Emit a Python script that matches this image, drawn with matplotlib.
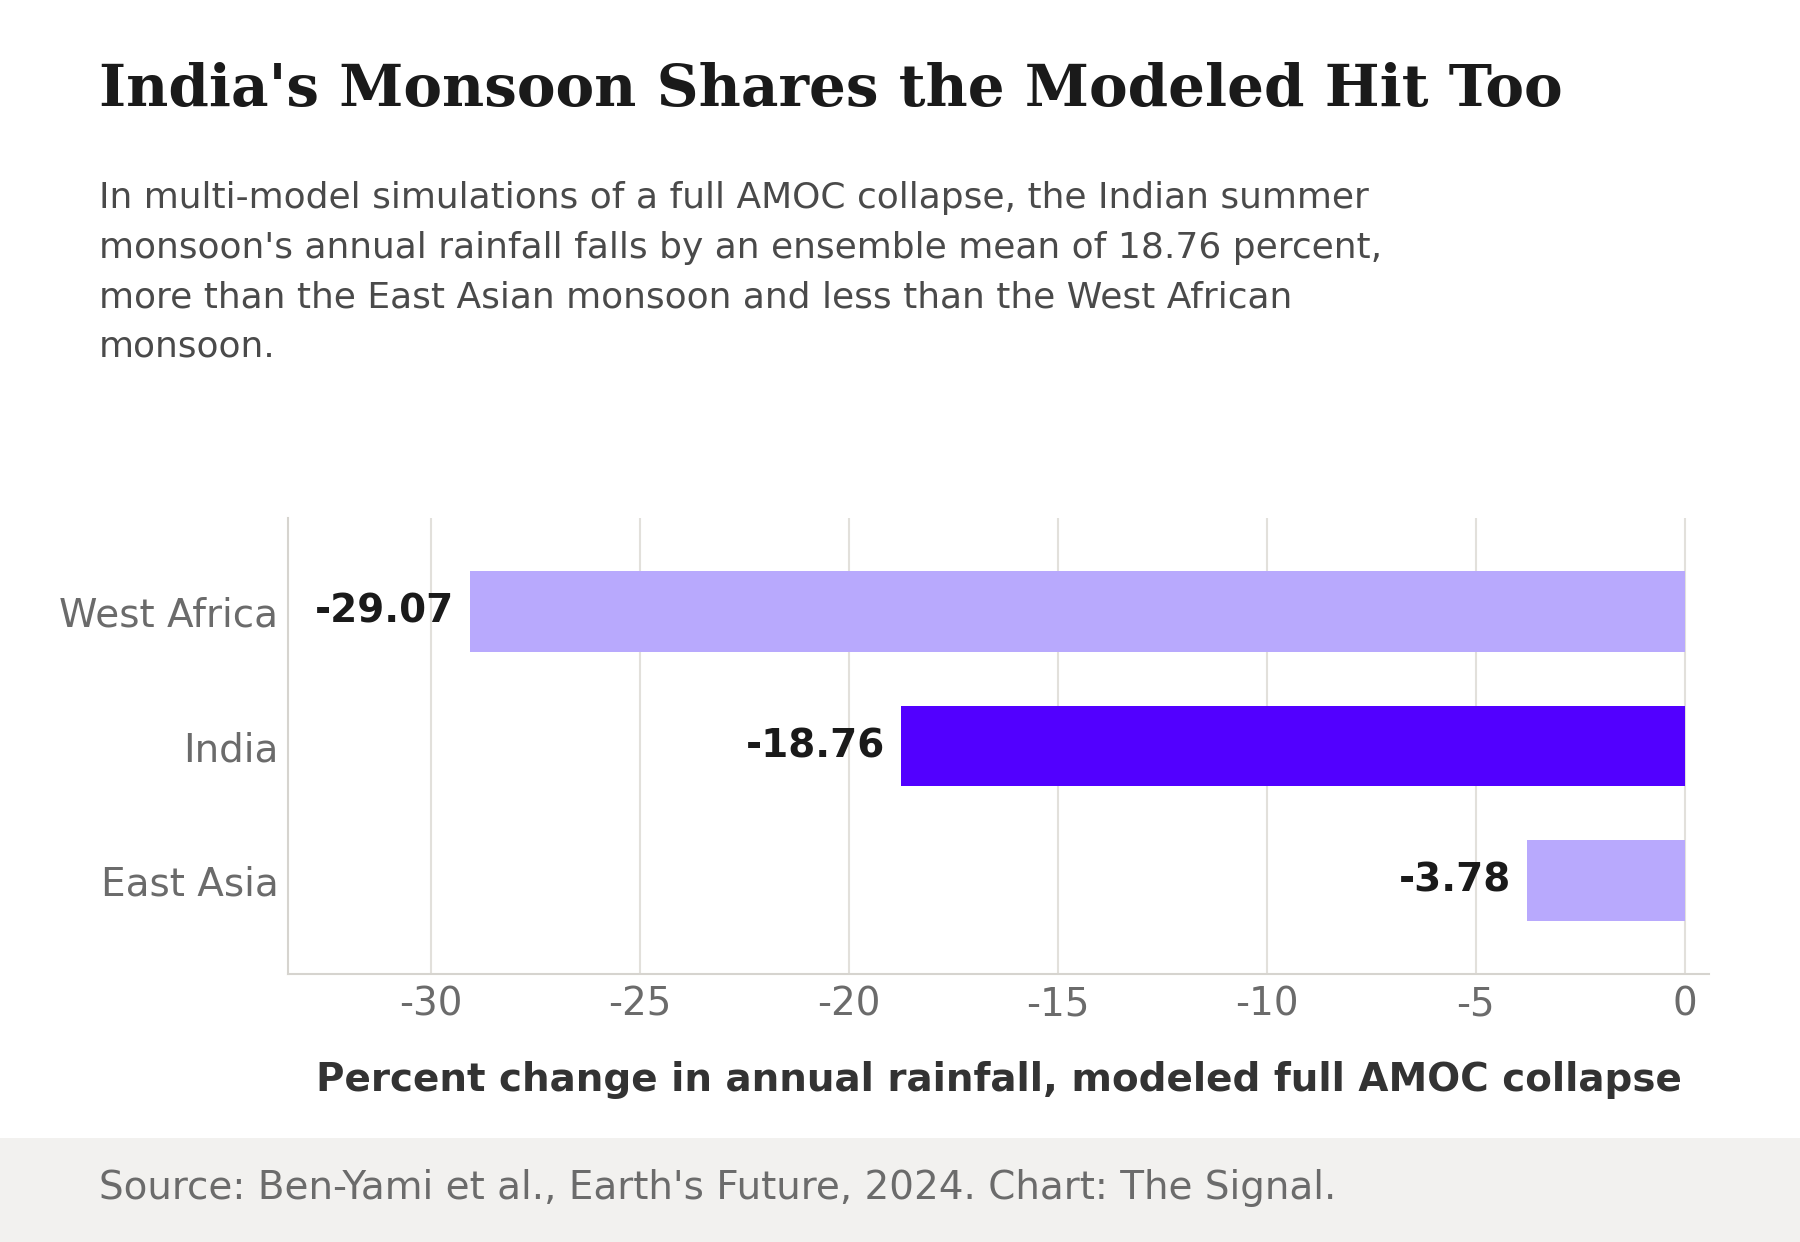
import matplotlib
matplotlib.use("Agg")
import matplotlib.pyplot as plt

# ---- data ----
regions = ["West Africa", "India", "East Asia"]
pct_change = [-29.07, -18.76, -3.78]
highlight = "India"
xticks = [-30, -25, -20, -15, -10, -5, 0]

title = "India's Monsoon Shares the Modeled Hit Too"
subtitle = ("In multi-model simulations of a full AMOC collapse, the Indian summer\n"
            "monsoon's annual rainfall falls by an ensemble mean of 18.76 percent,\n"
            "more than the East Asian monsoon and less than the West African\n"
            "monsoon.")
xlabel = "Percent change in annual rainfall, modeled full AMOC collapse"
source = "Source: Ben-Yami et al., Earth's Future, 2024. Chart: The Signal."

plt.rcParams["font.family"] = "DejaVu Sans"
plt.rcParams["axes.unicode_minus"] = False

fig = plt.figure(figsize=(18, 12.42), dpi=100)
fig.patch.set_facecolor("white")

# axes box in figure px: left 288, right 1709, top 518, bottom 974
W, H = 1800, 1242
ax = fig.add_axes([288 / W, 1 - 974 / H, (1709 - 288) / W, (974 - 518) / H])

ypos = list(range(len(regions)))
colors = ["#5200ff" if r == highlight else "#b8a9fd" for r in regions]
ax.barh(ypos, pct_change, height=0.6, color=colors, zorder=3)

for y, v in zip(ypos, pct_change):
    ax.annotate(f"{v:.2f}", xy=(v, y), xytext=(-11.5, 0), textcoords="offset points",
                ha="right", va="center", fontsize=28, fontweight="bold", color="#1a1a1a")

ax.set_xlim(-33.43, 0.58)
ax.set_ylim(2.69, -0.69)
ax.set_yticks(ypos)
ax.set_yticklabels(regions)
ax.set_xticks(xticks)
ax.set_xticklabels([str(t) for t in xticks])
ax.tick_params(axis="both", length=0, labelsize=28, labelcolor="#6b6b6b")
ax.tick_params(axis="x", pad=8)
ax.tick_params(axis="y", pad=7)

ax.grid(axis="x", color="#e2e0db", linewidth=1.5, zorder=0)
ax.grid(axis="y", visible=False)
for s in ["top", "right"]:
    ax.spines[s].set_visible(False)
for s in ["left", "bottom"]:
    ax.spines[s].set_color("#d6d4cf")
    ax.spines[s].set_linewidth(1.5)

ax.set_xlabel(xlabel, fontsize=28, fontweight="bold", color="#333333", labelpad=27)

# title block
fig.text(99 / W, 1 - 106 / H, title, fontsize=41.8, fontweight="bold",
         family="DejaVu Serif", color="#1a1a1a", ha="left", va="baseline")
fig.text(99 / W, 1 - 181 / H, subtitle, fontsize=25.9, color="#4a4a4a",
         ha="left", va="top", linespacing=1.58)

# footer band
fig.patches.append(plt.Rectangle((0, 0), 1, 1 - 1138 / H, transform=fig.transFigure,
                                 facecolor="#f2f1ef", edgecolor="none", zorder=0))
fig.text(99 / W, 1 - 1188 / H, source, fontsize=28, color="#6b6b6b",
         ha="left", va="center")

fig.savefig("out.png", dpi=100)
